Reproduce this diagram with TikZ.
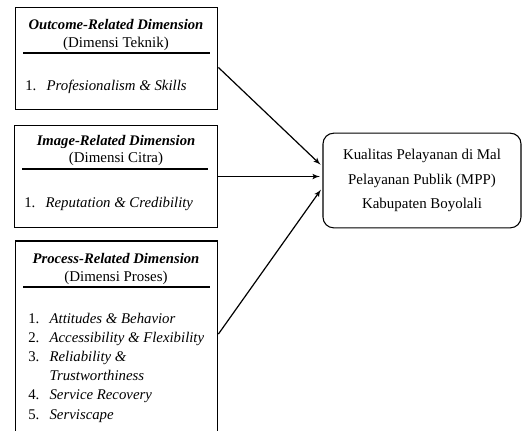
\documentclass[tikz,border=0pt]{standalone}
\usepackage{fontspec}
\setmainfont{Liberation Serif}
\usetikzlibrary{arrows}
\tikzset{
    dimbox/.style={rectangle,draw,line width=0.8pt,minimum width=\bw,inner sep=0pt},
    title/.style={anchor=base,inner sep=0pt,font=\fontsize{11}{13}\selectfont\bfseries\itshape},
    subtitle/.style={anchor=base,inner sep=0pt,font=\fontsize{11.2}{13}\selectfont},
    item/.style={anchor=base west,inner sep=0pt,font=\fontsize{11.1}{13}\selectfont},
    rule/.style={line width=1pt},
    edge/.style={->,> = latex',line width=0.9pt,shorten >=2pt}
}
\newcommand{\bw}{152pt}
\newcommand{\num}[1]{\makebox[16pt][l]{#1}}

\begin{document}
\begin{tikzpicture}[x=0.75pt,y=-0.75pt]
\useasboundingbox (0,0) rectangle (522,430);
\clip (0,0) rectangle (522,430);

\node[dimbox,minimum height=77pt] (1) at (116.5,58.5) {};
\node[dimbox,minimum height=77pt] (2) at (116,176.5) {};
\node[dimbox,minimum height=153pt] (3) at (116.5,343) {};
\node[rectangle,draw,line width=0.8pt,rounded corners=8pt,minimum width=148.5pt,minimum height=71pt,
  align=center,font=\fontsize{11.2}{18.4}\selectfont] (4) at (422,180.5)
  {Kualitas Pelayanan di Mal\\Pelayanan Publik (MPP)\\Kabupaten Boyolali};

\node[title] (1t) at (116,29) {Outcome-Related Dimension};
\node[subtitle] (1s) at (116,47) {(Dimensi Teknik)};
\draw[rule] (23,53) -- (210,53);
\node[item] (1a) at (25,90) {\num{1.}\textit{Profesionalism \& Skills}};

\node[title] (2t) at (116,145) {Image-Related Dimension};
\node[subtitle] (2s) at (116,162) {(Dimensi Citra)};
\draw[rule] (22,169) -- (208,169);
\node[item] (2a) at (24,207) {\num{1.}\textit{Reputation \& Credibility}};

\node[title] (3t) at (116,263) {Process-Related Dimension};
\node[subtitle] (3s) at (116,281) {(Dimensi Proses)};
\draw[rule] (23,287) -- (210,287);
\node[item] (3a) at (28,323) {\num{1.}\textit{Attitudes \& Behavior}};
\node[item] (3b) at (28,342.2) {\num{2.}\textit{Accessibility \& Flexibility}};
\node[item] (3c) at (28,361.4) {\num{3.}\textit{Reliability \&}};
\node[item] (3d) at (28,380.6) {\num{}\textit{Trustworthiness}};
\node[item] (3e) at (28,399.8) {\num{4.}\textit{Service Recovery}};
\node[item] (3f) at (28,419) {\num{5.}\textit{Serviscape}};

\draw[edge] (1.-5) -- (4.172);
\draw[edge] (2.east) -- (2.east -| 4.west);
\draw[edge] (3.5) -- (4.184);

\end{tikzpicture}
\end{document}
